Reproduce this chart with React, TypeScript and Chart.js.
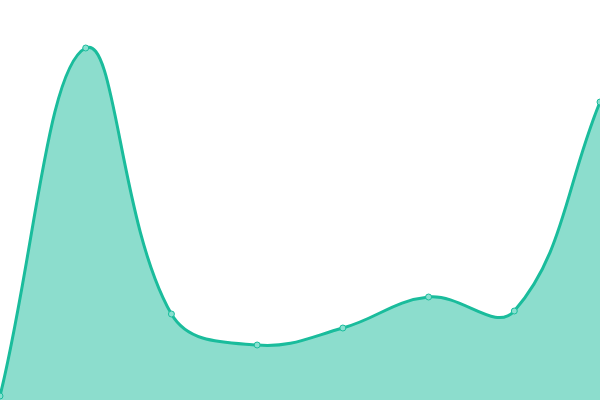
import React, { useEffect, useRef } from 'react';
import { Chart, registerables } from 'chart.js';
Chart.register(...registerables);

const labels = ['1', '2', '3', '4', '5', '6', '7', '8'];
const values = [1, 88, 21.5, 13.75, 18, 25.75, 22.25, 74.5];

const App = () => {
	const canvasRef = useRef<HTMLCanvasElement>(null);

	useEffect(() => {
		if (!canvasRef.current) return;
		const chart = new Chart(canvasRef.current, {
			type: 'line',
			data: {
				labels: labels,
				datasets: [
					{
						data: values,
						fill: true,
						backgroundColor: 'rgba(26, 188, 156, 0.5)',
						borderColor: 'rgb(26, 188, 156)',
						borderWidth: 3,
						tension: 0.4,
						pointRadius: 3,
						pointBorderWidth: 1,
						pointBackgroundColor: 'rgb(136, 224, 208)',
						pointBorderColor: 'rgb(26, 188, 156)',
					},
				],
			},
			options: {
				animation: false,
				responsive: true,
				maintainAspectRatio: false,
				layout: { padding: 0, autoPadding: false },
				plugins: {
					legend: { display: false },
					tooltip: { enabled: false },
				},
				scales: {
					x: { display: false },
					y: { display: false, min: 0, max: 100 },
				},
			},
		});
		return () => chart.destroy();
	}, []);

	return (
		<div style={{ position: 'fixed', left: 0, top: 0, width: 600, height: 400 }}>
			<canvas ref={canvasRef}></canvas>
		</div>
	);
};

export default App;
